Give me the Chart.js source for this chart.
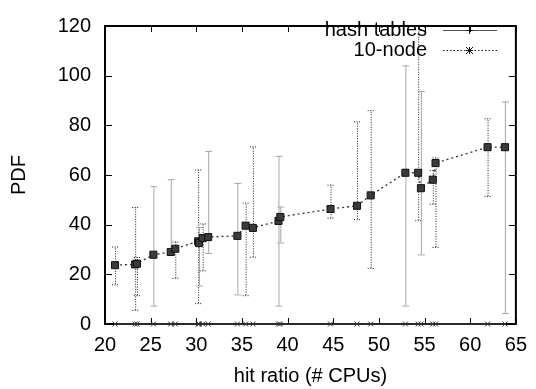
<!DOCTYPE html>
<html>
<head>
<meta charset="utf-8">
<script src="https://cdn.jsdelivr.net/npm/chart.js@4.4.1/dist/chart.umd.min.js"></script>
<style>
  html, body { margin: 0; padding: 0; background: #fff; }
</style>
</head>
<body>
<canvas id="chart" width="536" height="389"></canvas>
<script>
// values
const cpus = [21.1, 23.3, 23.5, 25.3, 27.2, 27.7, 30.2, 30.3, 30.7, 31.3, 34.5, 35.4, 36.2,
	39.0, 39.2, 44.7, 47.6, 49.1, 52.9, 54.3, 54.6, 55.9, 56.2, 61.9, 63.8];
const nodePdf = [23.7, 24.0, 24.3, 27.9, 29.0, 30.3, 33.3, 32.6, 34.6, 35.0, 35.5, 39.6, 38.7,
	41.5, 43.1, 46.3, 47.6, 51.8, 60.9, 60.9, 54.7, 58.1, 64.8, 71.2, 71.2];
const errLow = [16.0, 5.7, 11.6, 7.4, 28.5, 18.6, 8.4, 15.5, 21.6, 28.6, 11.9, 11.6, 27.1,
	7.4, 32.8, 42.8, 42.2, 22.6, 7.4, 41.8, 28.0, 48.4, 31.0, 51.5, 4.4];
const errHigh = [31.2, 47.1, 27.0, 55.5, 58.3, 33.2, 62.2, 39.0, 40.5, 69.7, 56.8, 48.9, 71.5,
	67.7, 47.3, 56.1, 81.6, 86.1, 104.1, 120, 93.8, 62.0, 67.1, 82.8, 89.6];
// 1 = grey solid bar, 0 = dotted bar
const errGrey = [0, 0, 0, 1, 1, 0, 0, 1, 0, 1, 1, 0, 0, 1, 1, 0, 0, 0, 1, 0, 1, 0, 0, 0, 1];
const hashPdf = [0, 0, 0, 0, 0, 0, 0, 0, 0, 0, 0, 0, 0, 0, 0, 0, 0, 0, 0, 0, 0, 0, 0, 0, 0];
const seriesNames = ['hash tables', '10-node'];
const xTicks = [20, 25, 30, 35, 40, 45, 50, 55, 60, 65];
const yTicks = [0, 20, 40, 60, 80, 100, 120];

const FONT = "'Liberation Sans', Arial, Helvetica, sans-serif";
Chart.defaults.font.family = FONT;
Chart.defaults.font.size = 20;
Chart.defaults.color = '#000';

const toPoints = ys => cpus.map((x, i) => ({ x: x, y: ys[i] }));

// error bars drawn under the points
const errorBars = {
	id: 'errorBars',
	beforeDatasetsDraw(chart) {
		const { ctx, scales: { x, y } } = chart;
		ctx.save();
		cpus.forEach((c, i) => {
			const px = x.getPixelForValue(c);
			const lo = y.getPixelForValue(errLow[i]);
			const hi = y.getPixelForValue(errHigh[i]);
			if (errGrey[i]) {
				ctx.strokeStyle = '#a8a8a8';
				ctx.setLineDash([]);
			} else {
				ctx.strokeStyle = '#222';
				ctx.setLineDash([1, 1.5]);
			}
			ctx.lineWidth = 1;
			ctx.beginPath();
			ctx.moveTo(px + 0.5, lo);
			ctx.lineTo(px + 0.5, hi);
			ctx.moveTo(px - 3, lo + 0.5);
			ctx.lineTo(px + 4, lo + 0.5);
			ctx.moveTo(px - 3, hi + 0.5);
			ctx.lineTo(px + 4, hi + 0.5);
			ctx.stroke();
		});
		ctx.restore();
	}
};

// gnuplot style frame with inward ticks on all four sides, plus the key
const frame = {
	id: 'frame',
	beforeDatasetsDraw(chart) {
		const { ctx, chartArea: a, scales: { x, y } } = chart;
		ctx.save();
		ctx.strokeStyle = '#000';
		ctx.lineWidth = 1;
		ctx.beginPath();
		xTicks.forEach(v => {
			const px = Math.round(x.getPixelForValue(v)) + 0.5;
			ctx.moveTo(px, a.bottom); ctx.lineTo(px, a.bottom - 6);
			ctx.moveTo(px, a.top); ctx.lineTo(px, a.top + 6);
		});
		yTicks.forEach(v => {
			const py = Math.round(y.getPixelForValue(v)) + 0.5;
			ctx.moveTo(a.left, py); ctx.lineTo(a.left + 7, py);
			ctx.moveTo(a.right, py); ctx.lineTo(a.right - 7, py);
		});
		ctx.stroke();
		ctx.lineWidth = 2;
		ctx.strokeRect(a.left, a.top, a.right - a.left, a.bottom - a.top);
		ctx.restore();
	},
	afterDraw(chart) {
		const { ctx } = chart;
		ctx.save();
		ctx.font = '20px ' + FONT;
		ctx.fillStyle = '#000';
		ctx.textAlign = 'right';
		ctx.textBaseline = 'middle';
		const rows = [30, 50];
		seriesNames.forEach((name, i) => {
			const ry = rows[i];
			ctx.fillText(name, 427, ry);
			ctx.beginPath();
			if (i === 0) {
				ctx.strokeStyle = '#555';
				ctx.setLineDash([]);
			} else {
				ctx.strokeStyle = '#222';
				ctx.setLineDash([1.5, 2]);
			}
			ctx.lineWidth = 1;
			ctx.moveTo(443, ry + 0.5);
			ctx.lineTo(497, ry + 0.5);
			ctx.stroke();
			ctx.setLineDash([]);
			ctx.strokeStyle = '#111';
			ctx.beginPath();
			if (i === 0) {
				ctx.moveTo(466, ry + 0.5); ctx.lineTo(473, ry + 0.5);
				ctx.moveTo(469.5, ry - 3); ctx.lineTo(469.5, ry + 4);
			} else {
				ctx.moveTo(466, ry - 3); ctx.lineTo(473, ry + 4);
				ctx.moveTo(466, ry + 4); ctx.lineTo(473, ry - 3);
				ctx.moveTo(466, ry + 0.5); ctx.lineTo(473, ry + 0.5);
				ctx.moveTo(469.5, ry - 3); ctx.lineTo(469.5, ry + 4);
			}
			ctx.stroke();
		});
		ctx.restore();
	}
};

new Chart(document.getElementById('chart'), {
	type: 'line',
	data: {
		datasets: [
			{
				label: seriesNames[0],
				data: toPoints(hashPdf),
				borderColor: '#555',
				borderWidth: 1,
				pointStyle: 'crossRot',
				pointRadius: 3.5,
				pointBorderColor: '#333',
				pointBorderWidth: 1,
				clip: false
			},
			{
				label: seriesNames[1],
				data: toPoints(nodePdf),
				borderColor: '#333',
				borderWidth: 1.3,
				borderDash: [2, 3],
				pointStyle: 'rect',
				pointRadius: 5,
				pointBackgroundColor: '#3a3a3a',
				pointBorderColor: '#111',
				pointBorderWidth: 1
			}
		]
	},
	options: {
		responsive: false,
		animation: false,
		devicePixelRatio: 1,
		layout: { padding: { top: 14, right: 14, left: 0, bottom: 0 } },
		plugins: {
			legend: { display: false },
			tooltip: { enabled: false }
		},
		scales: {
			x: {
				type: 'linear',
				min: 20,
				max: 65,
				afterFit: s => { s.height = 65; },
				afterBuildTicks: s => { s.ticks = xTicks.map(v => ({ value: v })); },
				grid: { display: false, drawTicks: false },
				border: { display: false },
				ticks: { padding: 9, maxRotation: 0 },
				title: { display: true, text: 'hit ratio (# CPUs)', padding: { top: 0, bottom: 1 } }
			},
			y: {
				min: 0,
				max: 120,
				afterFit: s => { s.width = 105; },
				afterBuildTicks: s => { s.ticks = yTicks.map(v => ({ value: v })); },
				grid: { display: false, drawTicks: false },
				border: { display: false },
				ticks: { padding: 14 },
				title: { display: true, text: 'PDF', padding: { top: 7, bottom: 0 } }
			}
		}
	},
	plugins: [frame, errorBars]
});
</script>
</body>
</html>
